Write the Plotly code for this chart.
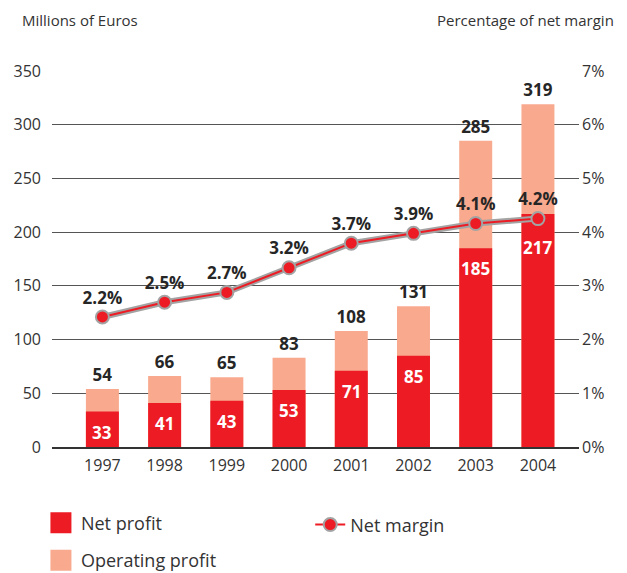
import plotly.graph_objects as go

years = ['1997', '1998', '1999', '2000', '2001', '2002', '2003', '2004']
operating_profit = [54, 66, 65, 83, 108, 131, 285, 319]
net_profit = [33, 41, 43, 53, 71, 85, 185, 217]
net_margin = [2.2, 2.5, 2.7, 3.2, 3.7, 3.9, 4.1, 4.2]
pct_ticks = [0, 1, 2, 3, 4, 5, 6, 7]

RED = '#ED1C24'
SALMON = '#F8A98E'
GREY = '#A3A3A3'
TXT = '#333333'
FONT = 'Open Sans'

# the margin line in the original is drawn on its own scale (0% sits above the baseline)
y2_lo, y2_hi = -0.443, 7.2
y2_tickvals = [y2_lo + k / 7 * (y2_hi - y2_lo) for k in pct_ticks]

fig = go.Figure()

fig.add_trace(go.Bar(
    x=years, y=operating_profit,
    marker=dict(color=SALMON, line_width=0),
    width=0.53,
    text=operating_profit,
    textposition='outside',
    textangle=0,
    textfont=dict(family=FONT, size=17, color='#262626', weight='bold'),
    cliponaxis=False,
    showlegend=False,
))

fig.add_trace(go.Bar(
    x=years, y=net_profit,
    marker=dict(color=RED, line_width=0),
    width=0.53,
    showlegend=False,
))

# grey casing under the red margin line
fig.add_trace(go.Scatter(
    x=years, y=net_margin, yaxis='y2',
    mode='lines',
    line=dict(color=GREY, width=6),
    showlegend=False, hoverinfo='skip',
))

fig.add_trace(go.Scatter(
    x=years, y=net_margin, yaxis='y2',
    mode='lines+markers+text',
    line=dict(color=RED, width=2),
    marker=dict(color=RED, size=13, line=dict(color=GREY, width=2)),
    text=[f'{v:.1f}%' for v in net_margin],
    textposition='top center',
    textfont=dict(family=FONT, size=17, color='#262626', weight='bold'),
    cliponaxis=False,
    name='Net margin',
    legend='legend2',
))

# legend-only entries with larger square swatches
fig.add_trace(go.Scatter(
    x=[None], y=[None], mode='markers',
    marker=dict(symbol='square', color=RED, size=16, line=dict(color=RED, width=5)),
    name='Net profit', legend='legend',
))
fig.add_trace(go.Scatter(
    x=[None], y=[None], mode='markers',
    marker=dict(symbol='square', color=SALMON, size=16, line=dict(color=SALMON, width=5)),
    name='Operating profit', legend='legend3',
))

# net profit values written in white just under the top of each red bar
# (category axis: annotation x is the category's serial number)
annotations = []
for i, (yr, v) in enumerate(zip(years, net_profit)):
    annotations.append(dict(
        x=i, y=v, xref='x', yref='y',
        text=str(v), showarrow=False,
        yanchor='top', yshift=-20 if yr == '2004' else -7,
        font=dict(family=FONT, size=17, color='white', weight='bold'),
    ))

annotations += [
    dict(text='Millions of Euros', xref='paper', yref='paper',
         x=-0.06, y=1.135, xanchor='left', yanchor='middle', showarrow=False,
         font=dict(family=FONT, size=15, color=TXT)),
    dict(text='Percentage of net margin', xref='paper', yref='paper',
         x=1.07, y=1.135, xanchor='right', yanchor='middle', showarrow=False,
         font=dict(family=FONT, size=15, color=TXT)),
]

legend_style = dict(
    font=dict(family=FONT, size=18, color=TXT),
    bgcolor='rgba(0,0,0,0)',
    xanchor='left', yanchor='middle',
)

# the page body adds an 8px offset, so the figure is 8px smaller than the window
fig.update_layout(
    barmode='overlay',
    width=619, height=565,
    margin=dict(l=44, r=48, t=63, b=126, autoexpand=False),
    plot_bgcolor='white',
    paper_bgcolor='white',
    font=dict(family=FONT, size=16, color=TXT),
    xaxis=dict(
        type='category',
        range=[-0.81, 7.66],
        showgrid=False,
        showline=True, linecolor='#333333', linewidth=2,
        ticks='',
        ticklabelstandoff=3,
        tickfont=dict(size=16, color=TXT),
        automargin=False,
    ),
    yaxis=dict(
        range=[0, 350],
        tickvals=[0, 50, 100, 150, 200, 250, 300, 350],
        showgrid=True, gridcolor='#555555', gridwidth=1,
        zeroline=False,
        ticks='',
        ticklabelstandoff=10,
        tickfont=dict(size=16, color=TXT),
        automargin=False,
    ),
    yaxis2=dict(
        overlaying='y', side='right',
        range=[y2_lo, y2_hi],
        tickvals=y2_tickvals,
        ticktext=[f'{k}%' for k in pct_ticks],
        showgrid=False, zeroline=False,
        ticks='',
        ticklabelstandoff=2,
        tickfont=dict(size=16, color=TXT),
        automargin=False,
    ),
    legend=dict(x=-0.021, y=-0.202, **legend_style),
    legend3=dict(x=-0.021, y=-0.302, **legend_style),
    legend2=dict(x=0.49, y=-0.207, **legend_style),
    annotations=annotations,
)

fig.write_html('out.html')
